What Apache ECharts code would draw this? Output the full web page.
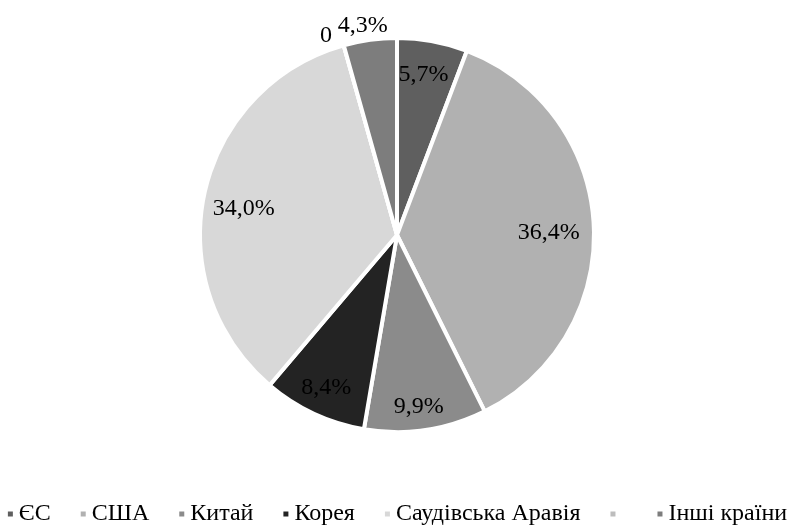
<!DOCTYPE html>
<html><head><meta charset="utf-8">
<script src="https://cdn.jsdelivr.net/npm/echarts@6/dist/echarts.min.js"></script>
<style>html,body{margin:0;padding:0;background:#fff}#c{width:793px;height:528px}</style>
</head><body><div id="c"></div>
<script>
var categories = ['ЄС', 'США', 'Китай', 'Корея', 'Саудівська Аравія', ' ', 'Інші країни'];
var values = [5.7, 36.4, 9.9, 8.4, 34.0, 0, 4.3];
var colors = ['#5f5f5f', '#b1b1b1', '#8b8b8b', '#232323', '#d8d8d8', '#bdbdbd', '#7d7d7d'];
var outsideLabels = [' ', 'Інші країни'];
var labelOffsets = [[-3, 0], [-11, 6], [-2, 10], [-2, 5], [6, 8], [-13, 8], [-5, 4]];

var FONT = 'Liberation Serif';
function fmt(v) { return v === 0 ? '0' : v.toFixed(1).replace('.', ',') + '%'; }

var mainData = categories.map(function (n, i) {
  return { name: n, value: values[i], itemStyle: { color: colors[i] } };
});
var innerData = categories.map(function (n, i) {
  return { name: n, value: values[i], label: { show: outsideLabels.indexOf(n) < 0, offset: labelOffsets[i] } };
});
var outerData = categories.map(function (n, i) {
  return { name: n, value: values[i], label: { show: outsideLabels.indexOf(n) >= 0, offset: labelOffsets[i] } };
});

var chart = echarts.init(document.getElementById('c'), null, { renderer: 'canvas' });
var common = {
  type: 'pie', center: [397, 235], startAngle: 90, clockwise: true,
  avoidLabelOverlap: false, silent: true, animation: false, stillShowZeroSum: true,
  minAngle: 0
};
chart.setOption({
  animation: false,
  textStyle: { fontFamily: FONT },
  legend: {
    data: categories, top: 502, left: 'center', itemWidth: 7, itemHeight: 7, itemGap: 28,
    icon: 'rect', selectedMode: false, padding: 0,
    textStyle: { fontFamily: FONT, fontSize: 24, color: '#000' }
  },
  series: [
    Object.assign({}, common, {
      name: 'main', radius: [0, 197], data: mainData,
      itemStyle: { borderColor: '#fff', borderWidth: 4 },
      label: { show: false }, labelLine: { show: false }
    }),
    Object.assign({}, common, {
      name: 'inner', radius: [125, 195], data: innerData, z: 3,
      itemStyle: { color: 'rgba(0,0,0,0)' },
      label: { position: 'inside', fontFamily: FONT, fontSize: 24, color: '#000',
        formatter: function (p) { return fmt(p.value); } },
      labelLine: { show: false }, emphasis: { disabled: true }
    }),
    Object.assign({}, common, {
      name: 'outer', radius: [200, 224], data: outerData, z: 3,
      itemStyle: { color: 'rgba(0,0,0,0)' },
      label: { position: 'inside', fontFamily: FONT, fontSize: 24, color: '#000',
        formatter: function (p) { return fmt(p.value); } },
      labelLine: { show: false }, emphasis: { disabled: true }
    })
  ]
});
</script></body></html>
